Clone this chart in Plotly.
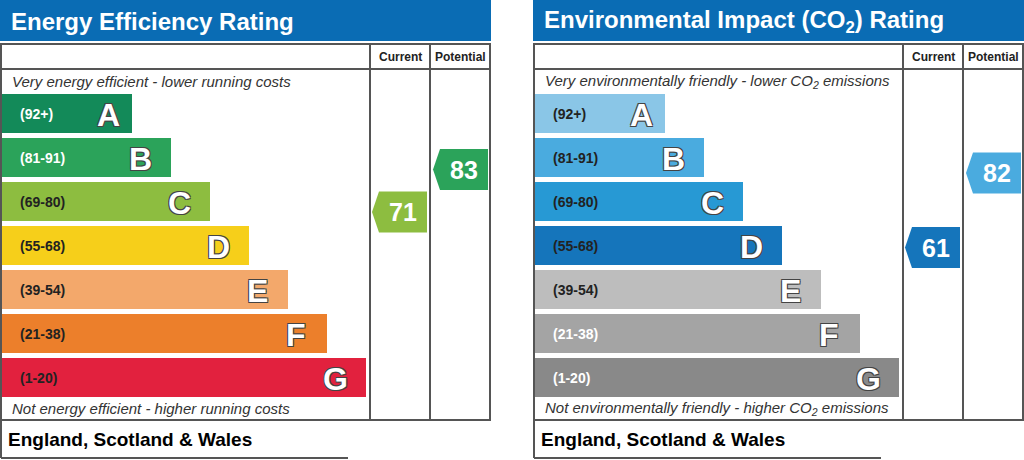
import plotly.graph_objects as go

# ratings bands, shared by both charts
bands = ["A", "B", "C", "D", "E", "F", "G"]
band_ranges = ["(92+)", "(81-91)", "(69-80)", "(55-68)", "(39-54)", "(21-38)", "(1-20)"]
band_floor = [92, 81, 69, 55, 39, 21, 1]

# energy efficiency chart
ee_colors = ["#138a59", "#2ba35a", "#8dbd40", "#f6cf1a", "#f3a86b", "#ec7f2b", "#e2213e"]
ee_label_colors = ["white", "white", "#222", "#222", "#222", "#222", "#222"]
ee_current = 71
ee_potential = 83

# environmental impact chart
ei_colors = ["#8ac6e7", "#4aabdf", "#2799d4", "#1575bb", "#bdbdbd", "#a4a4a4", "#898989"]
ei_label_colors = ["#222", "#222", "#222", "#222", "#222", "white", "white"]
ei_current = 61
ei_potential = 82

FONT = "Liberation Sans, Arial, Helvetica, sans-serif"
BORDER = "#555555"
HEADER_BLUE = "#0a6cb4"

# pixel layout (main axes are the page in px, y2 is the rating scale)
W, H = 1024, 460
PX_PER_POINT = 3.55
REF_VALUE, REF_PX = 83, 169.5
band_top, band_step, band_h = 94, 44, 39
band_len0, band_len_step = 131, 39
arrow_half = 20.5 / PX_PER_POINT
arrow_tip = 7

panels = [
    dict(
        dx=0,
        title="Energy Efficiency Rating",
        top="Very energy efficient - lower running costs",
        bottom="Not energy efficient - higher running costs",
        colors=ee_colors,
        label_colors=ee_label_colors,
        current=ee_current,
        potential=ee_potential,
    ),
    dict(
        dx=533,
        title="Environmental Impact (CO<sub>2</sub>) Rating",
        top="Very environmentally friendly - lower CO<sub>2</sub> emissions",
        bottom="Not environmentally friendly - higher CO<sub>2</sub> emissions",
        colors=ei_colors,
        label_colors=ei_label_colors,
        current=ei_current,
        potential=ei_potential,
    ),
]


def band_colour(value, colors):
    for floor, c in zip(band_floor, colors):
        if value >= floor:
            return c
    return colors[-1]


def label(x, y, text, size, color="#222", anchor="left", yref="y", **font):
    return dict(x=x, y=y, yref=yref, text=text, showarrow=False, xanchor=anchor,
                yanchor="middle", font=dict(family=FONT, size=size, color=color, **font))


fig = go.Figure()
shapes = []
annotations = []

for p in panels:
    dx = p["dx"]

    # header bar
    shapes.append(dict(type="rect", x0=dx, x1=dx + 491, y0=0, y1=41,
                       fillcolor=HEADER_BLUE, line_width=0, layer="below"))
    annotations.append(label(dx + 9, 21, p["title"], 24, "white", weight="bold"))

    # table frame
    shapes.append(dict(type="rect", x0=dx + 1, x1=dx + 490, y0=44, y1=420,
                       line=dict(color=BORDER, width=2)))
    shapes.append(dict(type="line", x0=dx + 1, x1=dx + 490, y0=69, y1=69,
                       line=dict(color=BORDER, width=2)))
    for cx in (370, 430):
        shapes.append(dict(type="line", x0=dx + cx, x1=dx + cx, y0=44, y1=420,
                           line=dict(color=BORDER, width=2)))
    # country box
    shapes.append(dict(type="line", x0=dx + 1, x1=dx + 1, y0=420, y1=458,
                       line=dict(color=BORDER, width=2)))
    shapes.append(dict(type="line", x0=dx + 1, x1=dx + 348, y0=458, y1=458,
                       line=dict(color=BORDER, width=2)))

    annotations.append(label(dx + 400, 57, "Current", 12, anchor="center", weight="bold"))
    annotations.append(label(dx + 460, 57, "Potential", 12, anchor="center", weight="bold"))
    annotations.append(label(dx + 10, 81, p["top"], 15, "#333", style="italic"))
    annotations.append(label(dx + 10, 408, p["bottom"], 15, "#333", style="italic"))
    annotations.append(label(dx + 6, 439, "England, Scotland & Wales", 19, "black",
                             weight="bold"))

    # rating bands
    centres = [band_top + band_step * i + band_h / 2 for i in range(len(bands))]
    lengths = [band_len0 + band_len_step * i for i in range(len(bands))]
    fig.add_trace(go.Bar(
        y=centres, x=lengths, base=dx + 1, orientation="h", width=band_h,
        marker=dict(color=p["colors"], line_width=0), hoverinfo="skip", showlegend=False,
    ))
    for i, letter in enumerate(bands):
        annotations.append(label(dx + 18, centres[i], band_ranges[i], 14,
                                 p["label_colors"][i], weight="bold"))
        # the short A band keeps its letter closer to the end
        inset = 24 if i == 0 else 31
        annotations.append(label(dx + 1 + lengths[i] - inset, centres[i] + 1, letter, 32,
                                 "white", anchor="center", weight="bold",
                                 shadow="-1px -1px 0 #444, 1px -1px 0 #444, "
                                        "-1px 1px 0 #444, 1px 1px 0 #444"))

    # current / potential arrows
    for value, tip, right in ((p["current"], 372, 427), (p["potential"], 433, 488)):
        colour = band_colour(value, p["colors"])
        xs = [dx + tip, dx + tip + arrow_tip, dx + right, dx + right, dx + tip + arrow_tip, dx + tip]
        ys = [value, value + arrow_half, value + arrow_half, value - arrow_half,
              value - arrow_half, value]
        fig.add_trace(go.Scatter(
            x=xs, y=ys, yaxis="y2", mode="lines", fill="toself", fillcolor=colour,
            line=dict(width=0, color=colour), hoverinfo="skip", showlegend=False,
        ))
        annotations.append(label(dx + (tip + arrow_tip + right) / 2, value, str(value), 25,
                                 "white", anchor="center", yref="y2", weight="bold"))

v_top = REF_VALUE + REF_PX / PX_PER_POINT
v_bottom = REF_VALUE - (H - REF_PX) / PX_PER_POINT

fig.update_layout(
    width=W,
    height=H,
    margin=dict(l=0, r=0, t=0, b=0),
    paper_bgcolor="white",
    plot_bgcolor="white",
    barmode="overlay",
    showlegend=False,
    xaxis=dict(range=[0, W], visible=False, fixedrange=True),
    yaxis=dict(range=[H, 0], visible=False, fixedrange=True),
    yaxis2=dict(range=[v_bottom, v_top], overlaying="y", visible=False, fixedrange=True),
    shapes=shapes,
    annotations=annotations,
)

# page body margin would shift the chart inside the window
fig.write_html("out.html", config={"displayModeBar": False},
               post_script="document.body.style.margin='0';")
